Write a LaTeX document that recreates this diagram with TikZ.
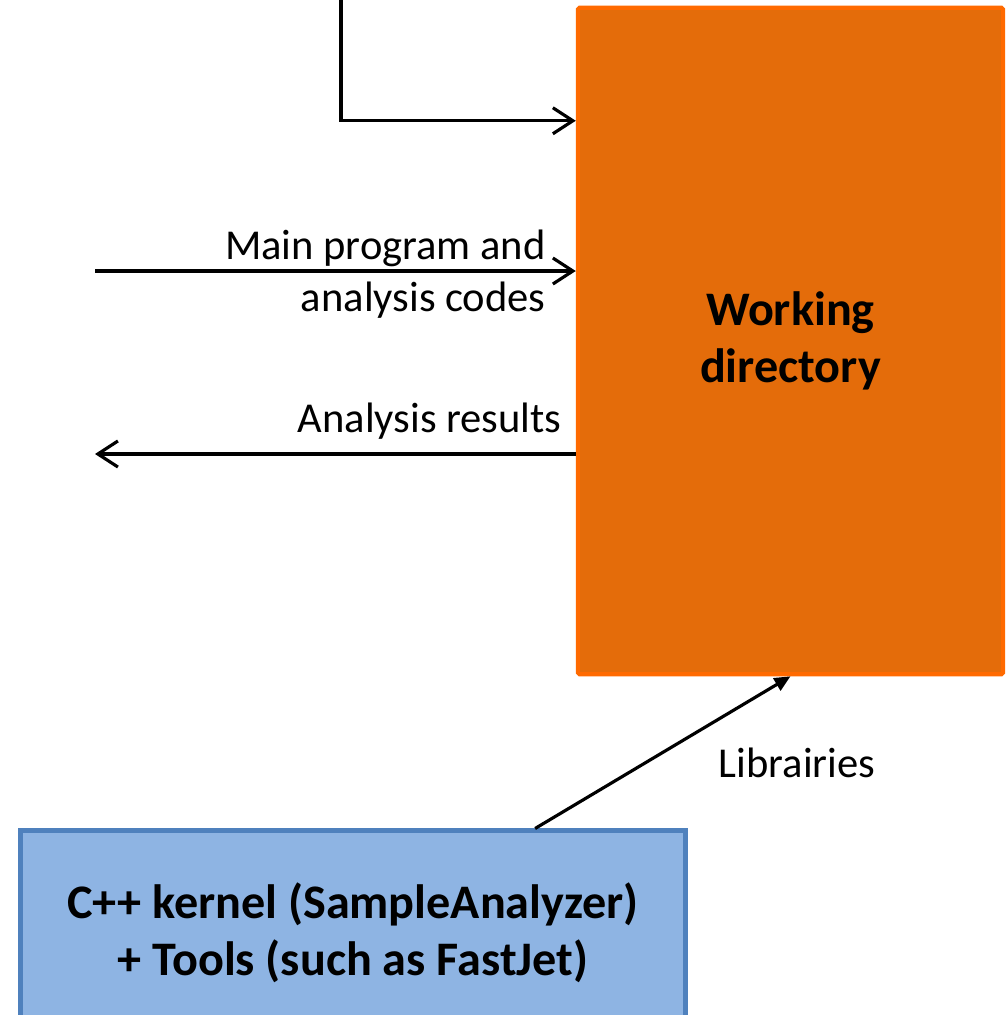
\documentclass[tikz,border=0pt]{standalone}
\usepackage{fontspec}
\setmainfont{Carlito}
\usetikzlibrary{arrows.meta}
\definecolor{workorange}{HTML}{E46C0A}
\definecolor{workedge}{HTML}{FF6A00}
\definecolor{kernelblue}{HTML}{8EB4E3}
\definecolor{kerneledge}{HTML}{4F81BD}
\begin{document}
\begin{tikzpicture}[x=0.01cm, y=-0.01cm,
	every node/.style={font=\fontsize{12.1}{14.8}\selectfont},
	boxtext/.style={align=center, font=\fontsize{13.7}{16.3}\selectfont\bfseries},
	flow/.style={line width=0.9pt, -{Straight Barb[length=2mm,width=2.6mm,line width=0.9pt]}},
	lib/.style={line width=0.9pt, -{Triangle[length=1.6mm,width=1.4mm]}}]

		\useasboundingbox (0,0) rectangle (1007,1015);

		% Define the nodes
		\node[draw=workedge, fill=workorange, line width=1.2pt, rounded corners=0.5pt,
			minimum width=4.25cm, minimum height=6.66cm, boxtext]
			(workdir) at (790.5,341) {Working\\directory};
		\node[draw=kerneledge, fill=kernelblue, line width=1.4pt,
			minimum width=6.64cm, minimum height=2.04cm, boxtext]
			(kernel) at (353,933) {C++ kernel (SampleAnalyzer)\\+ Tools (such as FastJet)};
		\coordinate (feed) at (341,0);
		\coordinate (codesrc) at (95,271);
		\coordinate (resout) at (95,454);

		% Define the edges
		\draw[flow] (feed) |- ([yshift=-1.15cm]workdir.north west);
		\draw[flow] (codesrc) -- (codesrc -| workdir.west);
		\draw[flow] (resout -| workdir.west) -- (resout);
		\draw[lib] ([xshift=1.82cm]kernel.north) -- (workdir.south);

		% Add labels for edges
		\node[anchor=east, align=right] at (558,274) {Main program and\\analysis codes};
		\node[anchor=east] at (574,421) {Analysis results};
		\node at (797,763) {Librairies};

	\end{tikzpicture}
\end{document}
